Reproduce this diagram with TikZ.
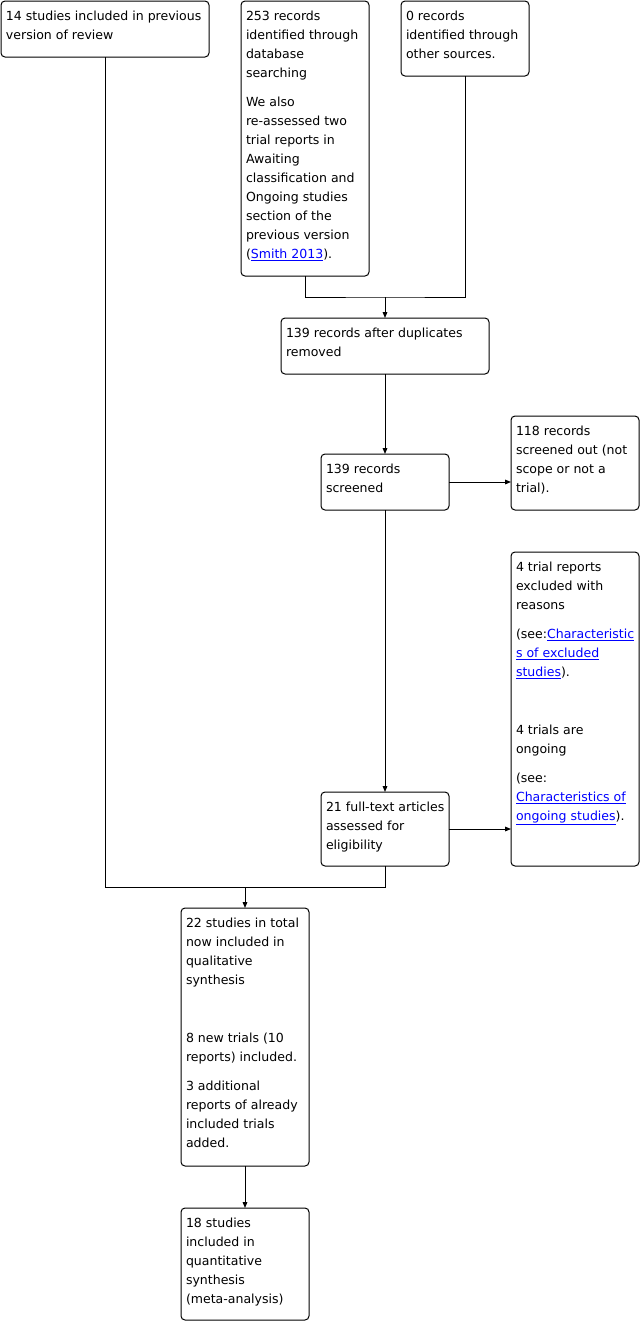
\documentclass[tikz,border=0pt]{standalone}
\usepackage{fontspec}
\setmainfont{DejaVu Sans}
\usetikzlibrary{arrows.meta,calc}
\definecolor{linkblue}{RGB}{0,0,255}
\newcommand\lk[1]{\textcolor{linkblue}{\underline{#1}}}
\newcommand\flowbox[6]{%
  \node[box, minimum width=0.75pt*#4, minimum height=0.75pt*#5, anchor=north west] (#1) at (#2,#3) {};
  \node[txt, anchor=base west] (#1t) at ($(#2,#3)+(5,19)$)
    {\parbox[t]{300pt}{\fontsize{9.4pt}{14.25pt}\selectfont\setlength\parskip{7.5pt}\raggedright #6}};
}
\begin{document}
\begin{tikzpicture}[x=0.75pt,y=-0.75pt,
  box/.style={draw=black, line width=0.75pt, rounded corners=3pt, inner sep=0pt, outer sep=0pt, fill=white},
  txt/.style={inner sep=0pt, outer sep=0pt},
  conn/.style={draw=black, line width=0.75pt},
  arr/.style={conn, -{Triangle[length=4.5pt,width=3.5pt]}}]
\useasboundingbox[fill=white] (0,0) rectangle (642,1322);

\flowbox{A}{1}{1}{208}{56}{14 studies included in previous\\version of review}
\flowbox{B}{241}{1}{128}{275}{253 records\\identified through\\database\\searching\par
We also\\re-assessed two\\trial reports in\\Awaiting\\classification and\\Ongoing studies\\section of the\\previous version\\(\lk{Smith 2013}).}
\flowbox{C}{401}{1}{128}{75}{0 records\\identified through\\other sources.}
\flowbox{D}{281}{318}{208}{56}{139 records after duplicates\\removed}
\flowbox{E}{321}{454}{128}{56}{139 records\\screened}
\flowbox{F}{511}{416}{128}{94}{118 records\\screened out (not\\scope or not a\\trial).}
\flowbox{G}{511}{552}{128}{314}{4 trial reports\\excluded with\\reasons\par
(see:\lk{Characteristic}\\\lk{s of excluded}\\\lk{studies}).\par\mbox{}\par
4 trials are\\ongoing\par
(see:\\\lk{Characteristics of}\\\lk{ongoing studies}).}
\flowbox{H}{321}{792}{128}{74}{21 full-text articles\\assessed for\\eligibility}
\flowbox{I}{181}{908}{128}{258}{22 studies in total\\now included in\\qualitative\\synthesis\par\mbox{}\par
8 new trials (10\\reports) included.\par
3 additional\\reports of already\\included trials\\added.}
\flowbox{J}{181}{1208}{128}{112}{18 studies\\included in\\quantitative\\synthesis\\(meta-analysis)}

\coordinate (j1) at (385,297);
\coordinate (j2) at (245,887);

\draw[conn] (B.south) |- (j1) -| (C.south);
\draw[arr] (j1) -- (D.north);
\draw[arr] (D.south) -- (E.north);
\draw[arr] (E.east) -- (E.east -| F.west);
\draw[arr] (E.south) -- (H.north);
\draw[arr] (H.east) -- (H.east -| G.west);
\draw[conn] (A.south) |- (j2) -| (H.south);
\draw[arr] (j2) -- (I.north);
\draw[arr] (I.south) -- (J.north);
\end{tikzpicture}
\end{document}
